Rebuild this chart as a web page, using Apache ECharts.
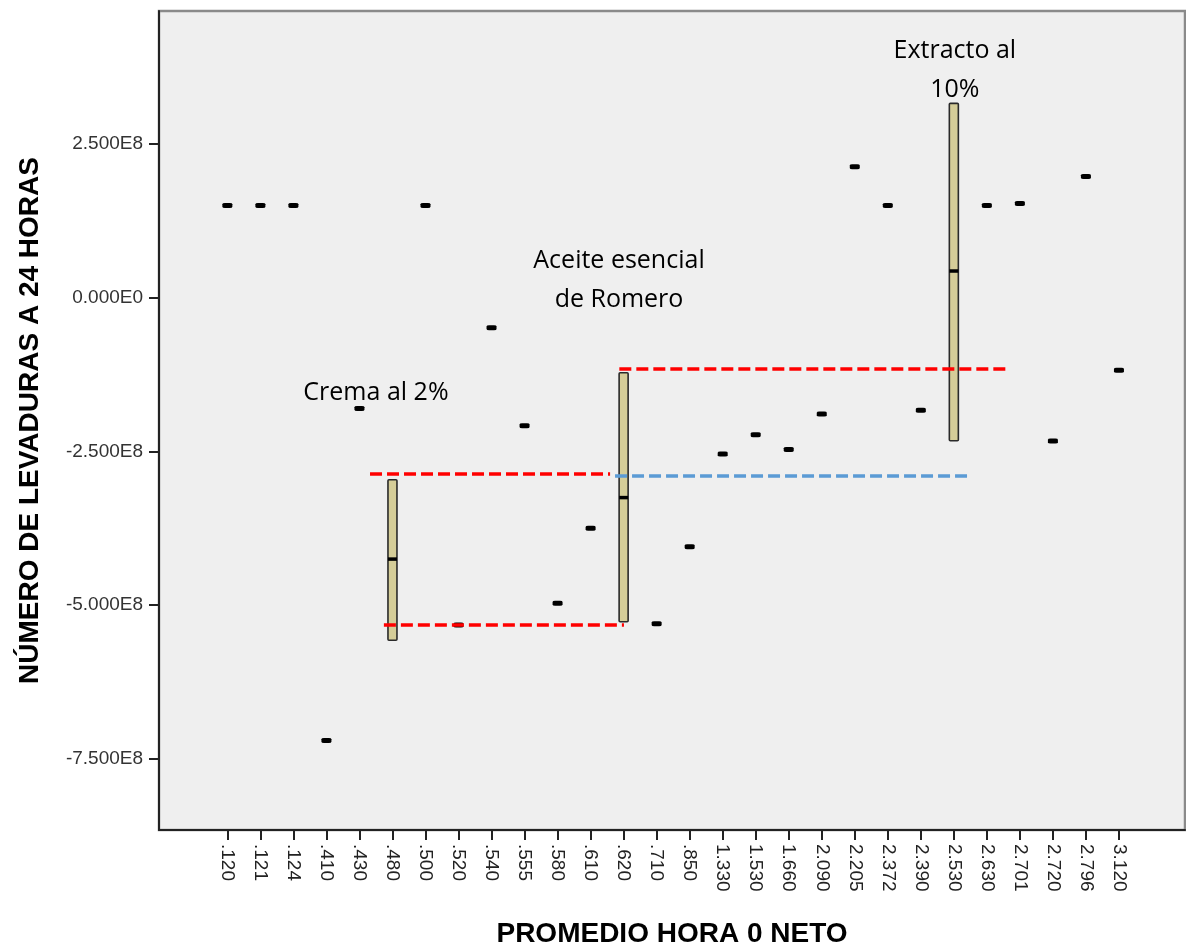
<!DOCTYPE html>
<html>
<head>
<meta charset="utf-8">
<script src="https://cdn.jsdelivr.net/npm/echarts@6/dist/echarts.min.js"></script>
<style>
html,body{margin:0;padding:0;background:#fff;}
#chart{width:1186px;height:942px;}
</style>
</head>
<body>
<div id="chart"></div>
<script>
// Categories (PROMEDIO HORA 0 NETO)
const categories = ['.120','.121','.124','.410','.430','.480','.500','.520','.540','.555','.580','.610','.620','.710','.850','1.330','1.530','1.660','2.090','2.205','2.372','2.390','2.530','2.630','2.701','2.720','2.796','3.120'];
// Single-value categories (units of 1E8); null where a box is drawn
const pointValues = [1.5,1.5,1.5,-7.2,-1.8,null,1.5,-5.32,-0.49,-2.08,-4.97,-3.75,null,-5.30,-4.05,-2.54,-2.23,-2.47,-1.89,2.13,1.50,-1.83,null,1.50,1.53,-2.33,1.97,-1.18];
// Boxes (units of 1E8)
const boxCategories = ['.480','.620','2.530'];
const boxLow = [-5.57,-5.27,-2.325];
const boxMedian = [-4.25,-3.25,0.434];
const boxHigh = [-2.96,-1.22,3.16];
// Y axis tick values
const yTicks = [-7.5e8,-5e8,-2.5e8,0,2.5e8];
// Reference dashed lines: value (1E8) and span in category-index units
const refLineValue = [-2.855,-5.31,-1.16,-2.90];
const refLineFrom = [4.32,4.74,11.87,11.74];
const refLineTo = [11.59,12.01,23.64,22.41];
const refLineKind = ['red','red','red','blue'];
// Text annotations
const noteText = ['Crema al 2%','Aceite esencial\nde Romero','Extracto al\n10%'];
const noteX = [4.50,11.86,22.03];
const noteY = [-1.55,0.29,3.69];

const E = 1e8;
const scatterData = [];
pointValues.forEach((v,i)=>{ if(v!==null) scatterData.push([i, v*E]); });
const boxData = boxCategories.map((c,k)=>[categories.indexOf(c), boxLow[k]*E, boxMedian[k]*E, boxHigh[k]*E]);

function fmtY(v){
  if (v === 0) return '0.000E0';
  const e = Math.floor(Math.log10(Math.abs(v)) + 1e-9);
  const m = v/Math.pow(10,e);
  return m.toFixed(3)+'E'+e;
}

const colors = {red:'#ff0000', blue:'#5b9bd5'};
const markLines = refLineValue.map((v,k)=>[
  {coord:[refLineFrom[k], v*E], lineStyle:{color:colors[refLineKind[k]], type:[12,5], width:3.5}},
  {coord:[refLineTo[k], v*E]}
]);
const markPoints = noteText.map((t,k)=>({coord:[noteX[k], noteY[k]*E], value:t}));

const chart = echarts.init(document.getElementById('chart'), null, {renderer:'canvas'});
chart.setOption({
  animation:false,
  backgroundColor:'#ffffff',
  grid:{left:159, right:1, top:11, bottom:112, outerBoundsMode:'none', containLabel:false,
        show:true, backgroundColor:'#efefef', borderColor:'#8a8a8a', borderWidth:2.5},
  xAxis:{
    type:'value', min:-2.07, max:29.0,
    name:'PROMEDIO HORA 0 NETO', nameLocation:'middle', nameGap:90,
    nameTextStyle:{fontFamily:'Liberation Sans', fontWeight:'bold', fontSize:28, color:'#000'},
    axisLine:{show:true, onZero:false, lineStyle:{color:'#222', width:2}},
    axisTick:{show:true, customValues:categories.map((c,i)=>i), length:10, lineStyle:{color:'#222', width:2}},
    axisLabel:{customValues:categories.map((c,i)=>i), rotate:-90, margin:14, fontFamily:'Liberation Sans', fontSize:19, color:'#222',
      formatter:(v)=>categories[Math.round(v)] || ''},
    splitLine:{show:false}
  },
  yAxis:{
    type:'value', min:-8.655e8, max:4.662e8,
    name:'NÚMERO DE LEVADURAS A 24 HORAS', nameLocation:'middle', nameGap:115,
    nameTextStyle:{fontFamily:'Liberation Sans', fontWeight:'bold', fontSize:28, color:'#000'},
    axisLine:{show:true, onZero:false, lineStyle:{color:'#222', width:2}},
    axisTick:{show:true, customValues:yTicks, length:10, lineStyle:{color:'#222', width:2}},
    axisLabel:{customValues:yTicks, margin:16, fontFamily:'Liberation Sans', fontSize:19, color:'#333', formatter:fmtY},
    splitLine:{show:false}
  },
  series:[
    {
      type:'scatter', data:scatterData, symbol:'roundRect', symbolSize:[10,5],
      itemStyle:{color:'#000', opacity:1}, z:3,
      markLine:{silent:true, symbol:'none', label:{show:false}, data:markLines},
      markPoint:{symbol:'circle', symbolSize:1, itemStyle:{color:'rgba(0,0,0,0)'},
        label:{show:true, position:'inside', formatter:(p)=>p.value, fontFamily:'Open Sans', fontSize:25, lineHeight:39, color:'#000'},
        data:markPoints}
    },
    {
      type:'custom', data:boxData, z:2,
      renderItem:(params, api)=>{
        const x = api.value(0);
        const pLow = api.coord([x, api.value(1)]);
        const pMed = api.coord([x, api.value(2)]);
        const pHigh = api.coord([x, api.value(3)]);
        const w = 9;
        return {type:'group', children:[
          {type:'rect', shape:{x:pLow[0]-w/2, y:pHigh[1], width:w, height:pLow[1]-pHigh[1], r:1},
           style:{fill:'#d5cd98', stroke:'#2a2a2a', lineWidth:1.6}},
          {type:'line', shape:{x1:pMed[0]-w/2, y1:pMed[1], x2:pMed[0]+w/2, y2:pMed[1]},
           style:{stroke:'#000', lineWidth:3.5}}
        ]};
      }
    }
  ]
});
</script>
</body>
</html>
